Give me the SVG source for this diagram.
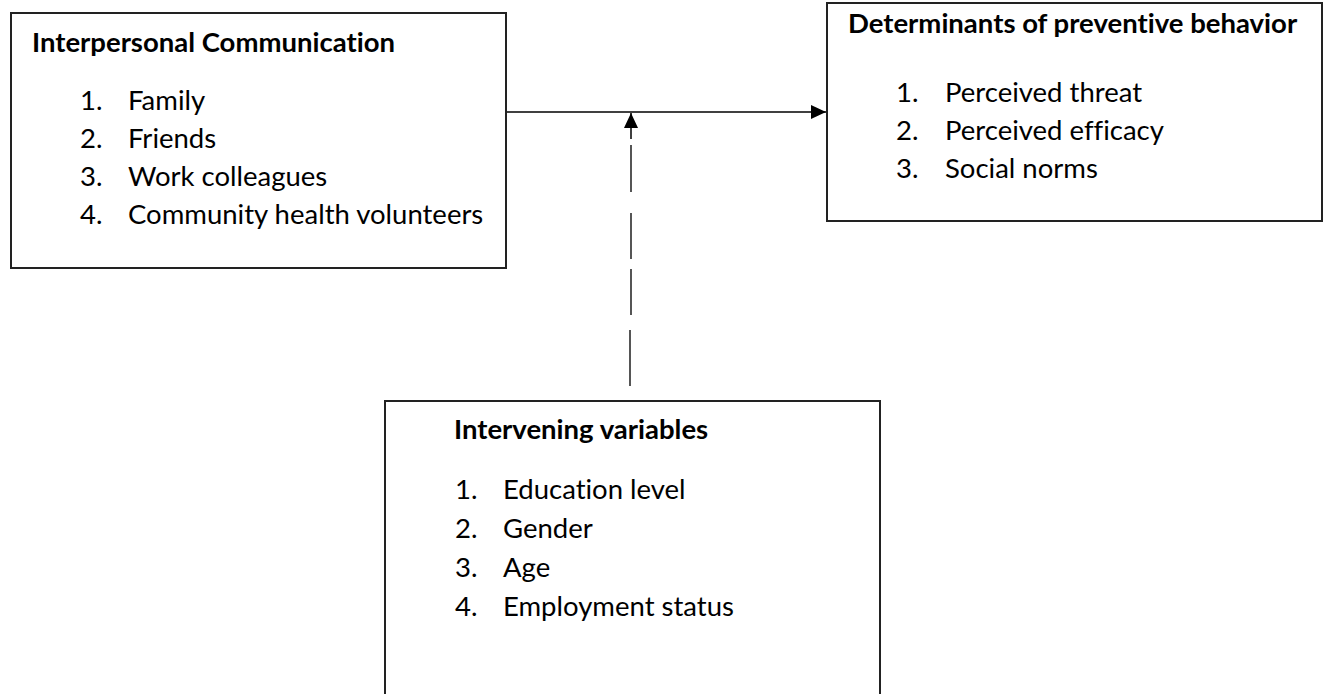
<svg xmlns="http://www.w3.org/2000/svg" width="1324" height="694" viewBox="0 0 1324 694">
<defs>
<style>
.box{fill:#fff;stroke:#222;stroke-width:2}
.t{font-family:Lato,"Liberation Sans",sans-serif;font-size:27.5px;fill:#000;font-variant-ligatures:none}
.b{font-weight:bold}
.ln{stroke:#000;stroke-width:1.5;fill:none}
.ds{stroke:#444;stroke-width:1.8;fill:none}
</style>
<marker id="ah" markerWidth="16" markerHeight="14" refX="15" refY="7" orient="auto" markerUnits="userSpaceOnUse">
<path d="M0,0 L15,7 L0,14 Z" fill="#000"/>
</marker>
</defs>
<rect width="1324" height="694" fill="#fff"/>
<g id="node-interpersonal">
<rect class="box" x="11" y="13" width="495" height="255"/>
<text class="t b" x="32" y="52">Interpersonal Communication</text>
<text class="t" x="80" y="110">1.</text><text class="t" x="128" y="110">Family</text>
<text class="t" x="80" y="148">2.</text><text class="t" x="128" y="148">Friends</text>
<text class="t" x="80" y="186">3.</text><text class="t" x="128" y="186">Work colleagues</text>
<text class="t" x="80" y="224">4.</text><text class="t" x="128" y="224">Community health volunteers</text>
</g>
<g id="node-determinants">
<rect class="box" x="827" y="3" width="495" height="218"/>
<text class="t b" x="848" y="33">Determinants of preventive behavior</text>
<text class="t" x="896" y="102">1.</text><text class="t" x="945" y="102">Perceived threat</text>
<text class="t" x="896" y="140">2.</text><text class="t" x="945" y="140">Perceived efficacy</text>
<text class="t" x="896" y="178">3.</text><text class="t" x="945" y="178">Social norms</text>
</g>
<g id="node-intervening">
<rect class="box" x="385" y="401" width="495" height="310"/>
<text class="t b" x="454" y="439">Intervening variables</text>
<text class="t" x="455" y="499">1.</text><text class="t" x="503" y="499">Education level</text>
<text class="t" x="455" y="538">2.</text><text class="t" x="503" y="538">Gender</text>
<text class="t" x="455" y="577">3.</text><text class="t" x="503" y="577">Age</text>
<text class="t" x="455" y="616">4.</text><text class="t" x="503" y="616">Employment status</text>
</g>
<g id="connectors">
<line class="ln" x1="507" y1="112" x2="826" y2="112" marker-end="url(#ah)"/>
<line class="ln" x1="631" y1="139" x2="631" y2="113" marker-end="url(#ah)"/>
<path class="ds" d="M631,145 V192 M631,213 V259 M631,269 V315 M630,330 V386"/>
</g>
</svg>
